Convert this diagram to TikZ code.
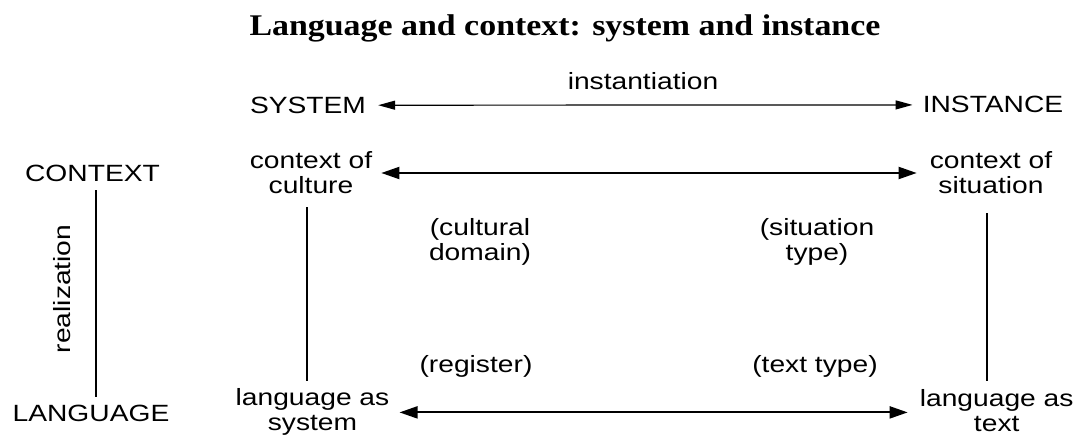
\documentclass[tikz,border=0pt]{standalone}
\usepackage{fontspec}
\usetikzlibrary{arrows.meta}
\newfontfamily\labfont[FakeStretch=1.2]{Liberation Sans}
\newfontfamily\headfont[FakeStretch=1.13]{Liberation Serif}

\begin{document}
\begin{tikzpicture}[x=1pt, y=-1pt,
    every node/.style={font=\labfont\fontsize{23.5}{25}\selectfont, inner sep=0pt, align=center},
    rel/.style={line width=1.2pt},
    inst arrow/.style={{Triangle[length=17pt,width=9pt]}-{Triangle[length=17pt,width=9pt]}, line width=1.2pt},
    main arrow/.style={{Triangle[length=18pt,width=12pt]}-{Triangle[length=18pt,width=12pt]}, line width=2pt}]

    \useasboundingbox (0,0) rectangle (1082,438);

    % Titel
    \node[anchor=base, font=\headfont\bfseries\fontsize{30}{34}\selectfont] (title) at (565,36)
        {Language and context: system and instance};

    % Kopfzeile: System -- Instanz
    \node[anchor=base] (sys) at (308,113.3) {SYSTEM};
    \node[anchor=base] (inst) at (993,113) {INSTANCE};
    \node[anchor=base] (instlbl) at (643,89.3) {instantiation};
    \draw[inst arrow, shorten <=12pt, shorten >=10pt] (sys.east) -- (inst.west);

    % linke Achse: Realisierung
    \node[anchor=base] (ctx) at (92.5,181.7) {CONTEXT};
    \node[anchor=base] (lang) at (91,421.7) {LANGUAGE};
    \node[anchor=base, rotate=90] (real) at (70,289) {realization};
    \draw[rel, shorten <=8pt, shorten >=8pt] ([xshift=3.5pt]ctx.south) -- ([xshift=5pt]lang.north);

    % Kontext-Ebene
    \node (cult) at (311,173) {context of\\culture};
    \node (csit) at (991,173) {context of\\situation};
    \draw[main arrow, shorten <=9pt, shorten >=13pt] (cult.east) -- (cult.east -| csit.west);

    % mittlere Typen
    \node (cdom) at (480,242) {(cultural\\domain)};
    \node (sitty) at (817,242) {(situation\\type)};
    \node[anchor=base] (reg) at (476,373) {(register)};
    \node[anchor=base] (ttype) at (815,373) {(text type)};

    % Sprach-Ebene
    \node (lasys) at (312.5,412.4) {language as\\system};
    \node (latext) at (996.7,410.7) {language as\\text};
    \draw[main arrow, shorten <=10pt, shorten >=12pt] (lasys.east) -- (lasys.east -| latext.west);

    % senkrechte Verbindungen
    \draw[rel, shorten <=13pt, shorten >=8pt] ([xshift=-4pt]cult.south) -- ([xshift=-4pt]cult.south |- lasys.north);
    \draw[rel, shorten <=19pt, shorten >=8pt] ([xshift=-4pt]csit.south) -- ([xshift=-4pt]csit.south |- latext.north);

\end{tikzpicture}
\end{document}
